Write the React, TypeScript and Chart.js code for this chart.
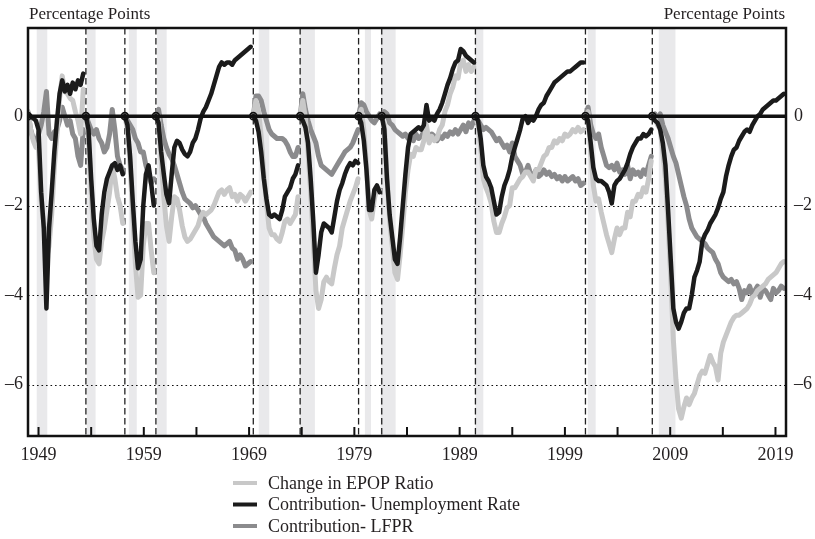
import React, { useEffect, useRef } from "react";
import { Chart, registerables } from "chart.js";

Chart.register(...registerables);

const FONT = "'Liberation Serif', 'Times New Roman', serif";

// Start of each episode (employment-to-population peak), decimal years
const segmentStarts = [1948.0, 1953.5, 1957.2, 1960.15, 1969.4, 1973.85, 1979.4, 1981.6, 1990.5, 2000.95, 2007.3];
const QUARTER = 0.25;

// Change in EPOP ratio since the peak, quarterly, percentage points
const epopChange: number[][] = [
  [0.1, -0.3, -0.55, -0.7, -0.7, -1.9, -2.4, -3.2, -2.9, -2.2, -1.15, -0.4, 0.4, 0.9, 0.55, 0.5, 0.4, 0.35, 0.1, -0.1, -0.4, 0.6],
  [0, -0.45, -1.7, -2.7, -3.2, -3.3, -2.8, -2.5, -2.1, -1.7, -1.1, -1.4, -1.8, -2.0, -2.4],
  [0, -0.3, -1.1, -2.2, -3.3, -4.05, -4.0, -2.9, -2.4, -2.4, -3.0, -3.5],
  [0, 0.0, -1.0, -1.8, -2.45, -2.8, -2.25, -1.8, -1.85, -2.1, -2.45, -2.7, -2.8, -2.75, -2.65, -2.55, -2.45, -2.25, -2.15, -2.2, -2.15, -2.1, -2.0, -1.85, -1.7, -1.65, -1.75, -1.65, -1.6, -1.8, -1.75, -1.9, -1.75, -1.8, -1.9, -1.8, -1.7],
  [0, 0.35, 0.1, -0.45, -1.3, -1.95, -2.5, -2.65, -2.65, -2.75, -2.8, -2.6, -2.35, -2.3, -2.4, -2.3, -2.2, -1.8],
  [0, 0.35, -0.05, -0.8, -1.7, -2.8, -3.9, -4.3, -4.1, -3.7, -3.6, -3.7, -3.75, -3.4, -3.1, -2.9, -2.5, -2.3, -2.1, -1.9, -1.75, -1.6, -1.4],
  [0, 0.15, -0.3, -1.1, -2.1, -2.3, -1.85, -1.6, -1.65],
  [0, -0.2, -1.35, -2.35, -2.9, -3.5, -3.65, -3.1, -2.45, -1.7, -1.2, -0.85, -0.9, -0.7, -0.75, -0.75, -0.55, -0.2, -0.6, -0.45, -0.55, -0.5, -0.3, -0.2, 0.1, 0.25, 0.5, 0.65, 0.9, 0.85, 1.2, 1.25, 1.0, 1.15, 1.0, 1.1],
  [0, -0.2, -0.7, -1.4, -1.6, -1.75, -1.95, -2.35, -2.6, -2.6, -2.4, -2.25, -2.05, -2.0, -1.6, -1.6, -1.5, -1.4, -1.35, -1.25, -1.25, -1.35, -1.45, -1.2, -1.2, -1.05, -0.9, -0.85, -0.7, -0.7, -0.55, -0.6, -0.5, -0.55, -0.4, -0.45, -0.4, -0.3, -0.35, -0.25, -0.35, -0.3],
  [0, 0.1, -0.8, -1.55, -1.9, -1.85, -2.15, -2.4, -2.65, -2.85, -3.05, -2.75, -2.5, -2.65, -2.5, -2.5, -2.15, -2.25, -1.9, -1.9, -1.75, -1.8, -1.6, -1.7, -1.4, -1.0],
  [0, -0.05, -0.2, -0.3, -0.8, -1.4, -2.4, -3.6, -5.0, -5.9, -6.55, -6.75, -6.5, -6.3, -6.45, -6.3, -6.2, -6.0, -5.8, -5.7, -5.75, -5.55, -5.35, -5.5, -5.6, -5.9, -5.3, -5.05, -4.9, -4.75, -4.6, -4.5, -4.45, -4.45, -4.4, -4.35, -4.3, -4.2, -4.05, -4.0, -3.9, -3.85, -3.8, -3.75, -3.65, -3.6, -3.55, -3.5, -3.4, -3.3, -3.25],
];

// Contribution of the unemployment rate
const unempContribution: number[][] = [
  [0, 0, -0.05, -0.1, -0.3, -1.7, -2.5, -4.3, -2.5, -1.7, -0.8, -0.1, 0.5, 0.8, 0.55, 0.7, 0.5, 0.75, 0.6, 0.8, 0.7, 0.95],
  [0, -0.3, -1.4, -2.3, -2.9, -3.0, -2.2, -1.7, -1.4, -1.25, -1.1, -1.05, -1.2, -1.1, -1.3],
  [0, -0.2, -0.9, -1.9, -2.8, -3.4, -3.2, -2.0, -1.3, -1.1, -1.5, -2.0],
  [0, -0.15, -0.8, -1.3, -1.75, -1.95, -1.3, -0.7, -0.55, -0.6, -0.75, -0.85, -0.9, -0.8, -0.6, -0.5, -0.3, -0.05, 0.1, 0.2, 0.35, 0.5, 0.7, 0.9, 1.1, 1.2, 1.15, 1.2, 1.2, 1.15, 1.25, 1.3, 1.35, 1.4, 1.45, 1.5, 1.55],
  [0, -0.1, -0.35, -0.8, -1.4, -1.85, -2.2, -2.25, -2.2, -2.25, -2.3, -2.1, -1.8, -1.7, -1.6, -1.4, -1.3, -1.1],
  [0, -0.1, -0.25, -0.6, -1.4, -2.35, -3.5, -3.1, -2.6, -2.4, -2.45, -2.5, -2.6, -2.25, -1.9, -1.65, -1.5, -1.3, -1.15, -1.05, -1.1, -1.0, -1.05],
  [0, -0.15, -0.55, -1.2, -2.1, -2.1, -1.65, -1.55, -1.7],
  [0, -0.3, -1.4, -2.2, -2.7, -3.2, -3.3, -2.7, -2.0, -1.3, -0.7, -0.4, -0.35, -0.3, -0.25, -0.3, -0.2, 0.25, -0.1, -0.05, -0.1, 0.05, 0.15, 0.3, 0.5, 0.7, 0.85, 1.05, 1.2, 1.25, 1.5, 1.45, 1.35, 1.3, 1.25, 1.2],
  [0, -0.1, -0.5, -1.1, -1.35, -1.45, -1.6, -1.9, -2.2, -2.15, -1.8, -1.55, -1.4, -1.2, -0.9, -0.7, -0.5, -0.3, -0.05, 0.0, -0.15, -0.05, -0.1, 0.0, 0.15, 0.25, 0.3, 0.45, 0.55, 0.65, 0.75, 0.8, 0.85, 0.9, 0.95, 1.0, 1.0, 1.05, 1.1, 1.15, 1.2, 1.2],
  [0, -0.1, -0.6, -1.15, -1.4, -1.45, -1.45, -1.5, -1.55, -1.7, -1.95, -1.55, -1.45, -1.4, -1.3, -1.2, -1.05, -0.85, -0.7, -0.6, -0.5, -0.5, -0.4, -0.45, -0.4, -0.3],
  [0, -0.1, -0.15, -0.3, -0.6, -1.1, -2.1, -3.2, -4.3, -4.6, -4.75, -4.6, -4.4, -4.3, -4.3, -4.0, -3.6, -3.45, -3.25, -2.8, -2.65, -2.55, -2.4, -2.3, -2.2, -2.05, -1.85, -1.7, -1.35, -1.1, -0.9, -0.75, -0.7, -0.55, -0.45, -0.35, -0.3, -0.35, -0.2, -0.1, 0.0, 0.05, 0.15, 0.2, 0.25, 0.3, 0.35, 0.35, 0.4, 0.45, 0.5],
];

// Contribution of the labor force participation rate
const lfprContribution: number[][] = [
  [0.1, -0.3, -0.5, -0.6, -0.4, -0.2, 0.1, 0.55, -0.4, -0.5, -0.35, -0.3, -0.1, 0.2, 0.0, -0.2, -0.1, -0.4, -0.5, -0.9, -1.1, -0.3],
  [0, -0.15, -0.3, -0.4, -0.3, -0.5, -0.6, -0.8, -0.7, -0.4, 0.15, -0.3, -0.9, -1.1, -1.2],
  [0, -0.1, -0.2, -0.3, -0.5, -0.6, -0.8, -0.8, -1.1, -1.3, -1.5, -1.4],
  [0, 0.15, -0.2, -0.5, -0.7, -0.85, -0.95, -1.1, -1.3, -1.5, -1.7, -1.85, -1.9, -1.95, -2.05, -2.0, -2.1, -2.2, -2.25, -2.4, -2.5, -2.6, -2.7, -2.75, -2.8, -2.85, -2.9, -2.85, -2.8, -2.95, -3.0, -3.2, -3.1, -3.2, -3.35, -3.3, -3.25],
  [0, 0.45, 0.45, 0.35, 0.1, -0.1, -0.3, -0.4, -0.45, -0.5, -0.5, -0.5, -0.55, -0.65, -0.8, -0.9, -0.9, -0.7],
  [0, 0.5, 0.15, -0.1, -0.3, -0.45, -0.6, -0.9, -1.1, -1.15, -1.2, -1.25, -1.3, -1.2, -1.1, -1.0, -0.9, -0.8, -0.75, -0.7, -0.6, -0.45, -0.3],
  [0, 0.3, 0.25, 0.1, 0.0, -0.1, -0.15, -0.05, 0.05],
  [0, 0.1, 0.05, -0.15, -0.2, -0.3, -0.35, -0.4, -0.45, -0.4, -0.5, -0.45, -0.55, -0.4, -0.5, -0.45, -0.35, -0.45, -0.5, -0.4, -0.45, -0.55, -0.45, -0.5, -0.4, -0.45, -0.35, -0.4, -0.3, -0.4, -0.3, -0.2, -0.35, -0.15, -0.25, -0.1],
  [0, -0.1, -0.2, -0.3, -0.25, -0.3, -0.35, -0.45, -0.55, -0.5, -0.6, -0.7, -0.65, -0.8, -0.6, -0.9, -1.0, -1.1, -1.3, -1.25, -1.1, -1.3, -1.35, -1.2, -1.35, -1.3, -1.2, -1.3, -1.25, -1.35, -1.3, -1.4, -1.35, -1.45, -1.35, -1.45, -1.4, -1.35, -1.45, -1.4, -1.55, -1.5],
  [0, 0.2, -0.2, -0.4, -0.5, -0.4, -0.7, -0.9, -1.1, -1.15, -1.1, -1.2, -1.05, -1.25, -1.2, -1.3, -1.1, -1.4, -1.2, -1.3, -1.25, -1.35, -1.2, -1.3, -1.1, -0.9],
  [0, 0.05, -0.1, 0.05, -0.2, -0.35, -0.5, -0.7, -0.9, -1.05, -1.3, -1.55, -1.8, -2.0, -2.3, -2.5, -2.6, -2.7, -2.75, -2.8, -2.85, -2.95, -3.0, -3.05, -3.2, -3.3, -3.5, -3.6, -3.65, -3.7, -3.65, -3.75, -3.7, -3.85, -4.1, -3.9, -3.95, -3.8, -4.0, -3.9, -3.8, -4.05, -3.85, -3.9, -4.0, -4.1, -3.85, -3.95, -3.9, -3.8, -3.85],
];

// NBER recessions (shaded)
const recessionStart = [1948.83, 1953.58, 1957.58, 1960.25, 1969.92, 1973.83, 1980.0, 1981.5, 1990.5, 2001.17, 2007.92];
const recessionEnd = [1949.83, 1954.42, 1958.33, 1961.17, 1970.92, 1975.25, 1980.58, 1982.92, 1991.25, 2001.92, 2009.5];

const xTickYears = [1949, 1954, 1959, 1964, 1969, 1974, 1979, 1984, 1989, 1994, 1999, 2004, 2009, 2014, 2019];
const xLabelYears = [1949, 1959, 1969, 1979, 1989, 1999, 2009, 2019];
const yTickValues = [0, -2, -4, -6];
const gridValues = [-2, -4, -6];

const seriesNames = ["Change in EPOP Ratio", "Contribution- Unemployment Rate", "Contribution- LFPR"];
const seriesColors = ["#c8c8c8", "#1b1b1b", "#8b8b8d"];

type Pt = { x: number; y: number | null; start?: boolean };

function toPoints(segs: number[][]): Pt[] {
  const pts: Pt[] = [];
  segs.forEach((seg, k) => {
    const t0 = segmentStarts[k];
    seg.forEach((v, i) => pts.push({ x: t0 + i * QUARTER, y: v, start: i === 0 }));
    pts.push({ x: t0 + (seg.length - 1) * QUARTER + 0.01, y: null });
  });
  return pts;
}

const fmtY = (v: number) => (v === 0 ? "0" : "\u2013" + Math.abs(v));

const decorPlugin = {
  id: "decor",
  beforeDatasetsDraw(chart: any) {
    const { ctx, chartArea: a, scales } = chart;
    const x = scales.x;
    const y = scales.y;
    ctx.save();
    ctx.fillStyle = "#e9e9eb";
    recessionStart.forEach((s, i) => {
      const x0 = x.getPixelForValue(s);
      const x1 = x.getPixelForValue(recessionEnd[i]);
      ctx.fillRect(x0, a.top, x1 - x0, a.bottom - a.top);
    });
    ctx.strokeStyle = "#111";
    ctx.lineWidth = 1.2;
    ctx.setLineDash([1.6, 2.9]);
    gridValues.forEach((v) => {
      const yy = Math.round(y.getPixelForValue(v)) + 0.5;
      ctx.beginPath();
      ctx.moveTo(a.left, yy);
      ctx.lineTo(a.right, yy);
      ctx.stroke();
    });
    ctx.strokeStyle = "#222";
    ctx.lineWidth = 1.3;
    ctx.setLineDash([6.5, 3.5]);
    segmentStarts.slice(1).forEach((t) => {
      const xx = x.getPixelForValue(t);
      ctx.beginPath();
      ctx.moveTo(xx, a.top);
      ctx.lineTo(xx, a.bottom);
      ctx.stroke();
    });
    ctx.restore();
  },
  afterDatasetsDraw(chart: any) {
    const { ctx, chartArea: a, scales } = chart;
    const x = scales.x;
    const y = scales.y;
    ctx.save();
    ctx.setLineDash([]);
    ctx.strokeStyle = "#111";
    ctx.lineWidth = 3.5;
    const y0 = y.getPixelForValue(0);
    ctx.beginPath();
    ctx.moveTo(a.left, y0);
    ctx.lineTo(a.right, y0);
    ctx.stroke();
    ctx.lineWidth = 2;
    xTickYears.forEach((t) => {
      const xx = x.getPixelForValue(t);
      ctx.beginPath();
      ctx.moveTo(xx, a.bottom);
      ctx.lineTo(xx, a.bottom - 9);
      ctx.stroke();
    });
    ctx.lineWidth = 2.5;
    ctx.strokeRect(a.left, a.top, a.right - a.left, a.bottom - a.top);
    ctx.restore();
  },
  afterDraw(chart: any) {
    const { ctx, chartArea: a } = chart;
    ctx.save();
    ctx.fillStyle = "#231f20";
    ctx.font = `17px ${FONT}`;
    ctx.textBaseline = "alphabetic";
    ctx.textAlign = "left";
    ctx.fillText("Percentage Points", a.left + 1, 19);
    ctx.textAlign = "right";
    ctx.fillText("Percentage Points", a.right - 1, 19);
    ctx.font = `18px ${FONT}`;
    ctx.textAlign = "left";
    ctx.textBaseline = "middle";
    const order = [0, 1, 2];
    order.forEach((k, row) => {
      const yy = a.bottom + 47 + row * 21.5;
      ctx.strokeStyle = seriesColors[k];
      ctx.lineWidth = 4;
      ctx.beginPath();
      ctx.moveTo(233, yy);
      ctx.lineTo(257, yy);
      ctx.stroke();
      ctx.fillText(seriesNames[k], 268, yy + 1);
    });
    ctx.restore();
  },
};

export default function App() {
  const canvasRef = useRef<HTMLCanvasElement | null>(null);

  useEffect(() => {
    document.body.style.margin = "0";
    const canvas = canvasRef.current;
    if (!canvas) return;
    const tickFont = { family: FONT, size: 18 };
    const chart = new Chart(canvas, {
      type: "line",
      data: {
        datasets: [
          {
            label: seriesNames[1],
            data: toPoints(unempContribution) as any,
            borderColor: seriesColors[1],
            borderWidth: 4.5,
            order: 0,
            pointRadius: (c: any) => (c.raw && c.raw.start ? 3.5 : 0),
            pointBorderColor: "#111",
            pointBackgroundColor: "rgba(255,255,255,0)",
            pointBorderWidth: 1.6,
          },
          {
            label: seriesNames[0],
            data: toPoints(epopChange) as any,
            borderColor: seriesColors[0],
            borderWidth: 5,
            order: 1,
            pointRadius: 0,
          },
          {
            label: seriesNames[2],
            data: toPoints(lfprContribution) as any,
            borderColor: seriesColors[2],
            borderWidth: 5,
            order: 2,
            pointRadius: 0,
          },
        ],
      },
      options: {
        responsive: false,
        animation: false,
        events: [],
        spanGaps: false,
        elements: {
          line: { tension: 0, borderJoinStyle: "round", borderCapStyle: "round" },
        },
        layout: { padding: { top: 28, left: 0, right: 0, bottom: 0 } },
        plugins: {
          legend: { display: false },
          tooltip: { enabled: false },
          title: { display: false },
        },
        scales: {
          x: {
            type: "linear",
            min: 1948,
            max: 2020,
            grid: { display: false, drawTicks: false },
            border: { display: false },
            afterBuildTicks: (s: any) => {
              s.ticks = xLabelYears.map((v) => ({ value: v }));
            },
            afterFit: (s: any) => {
              s.height = 103;
            },
            ticks: {
              font: tickFont,
              color: "#231f20",
              padding: 8,
              maxRotation: 0,
              autoSkip: false,
              callback: (v: any) => String(v),
            },
          },
          y: {
            position: "left",
            min: -7.15,
            max: 1.97,
            grid: { display: false, drawTicks: false },
            border: { display: false },
            afterBuildTicks: (s: any) => {
              s.ticks = yTickValues.map((v) => ({ value: v }));
            },
            afterFit: (s: any) => {
              s.width = 28;
            },
            ticks: { font: tickFont, color: "#231f20", padding: 5, callback: (v: any) => fmtY(v) },
          },
          y2: {
            position: "right",
            min: -7.15,
            max: 1.97,
            grid: { display: false, drawTicks: false },
            border: { display: false },
            afterBuildTicks: (s: any) => {
              s.ticks = yTickValues.map((v) => ({ value: v }));
            },
            afterFit: (s: any) => {
              s.width = 29;
            },
            ticks: { font: tickFont, color: "#231f20", padding: 8, callback: (v: any) => fmtY(v) },
          },
        },
      } as any,
      plugins: [decorPlugin],
    });
    return () => chart.destroy();
  }, []);

  return (
    <div style={{ width: 815, height: 539 }}>
      <canvas ref={canvasRef} width={815} height={539} />
    </div>
  );
}
